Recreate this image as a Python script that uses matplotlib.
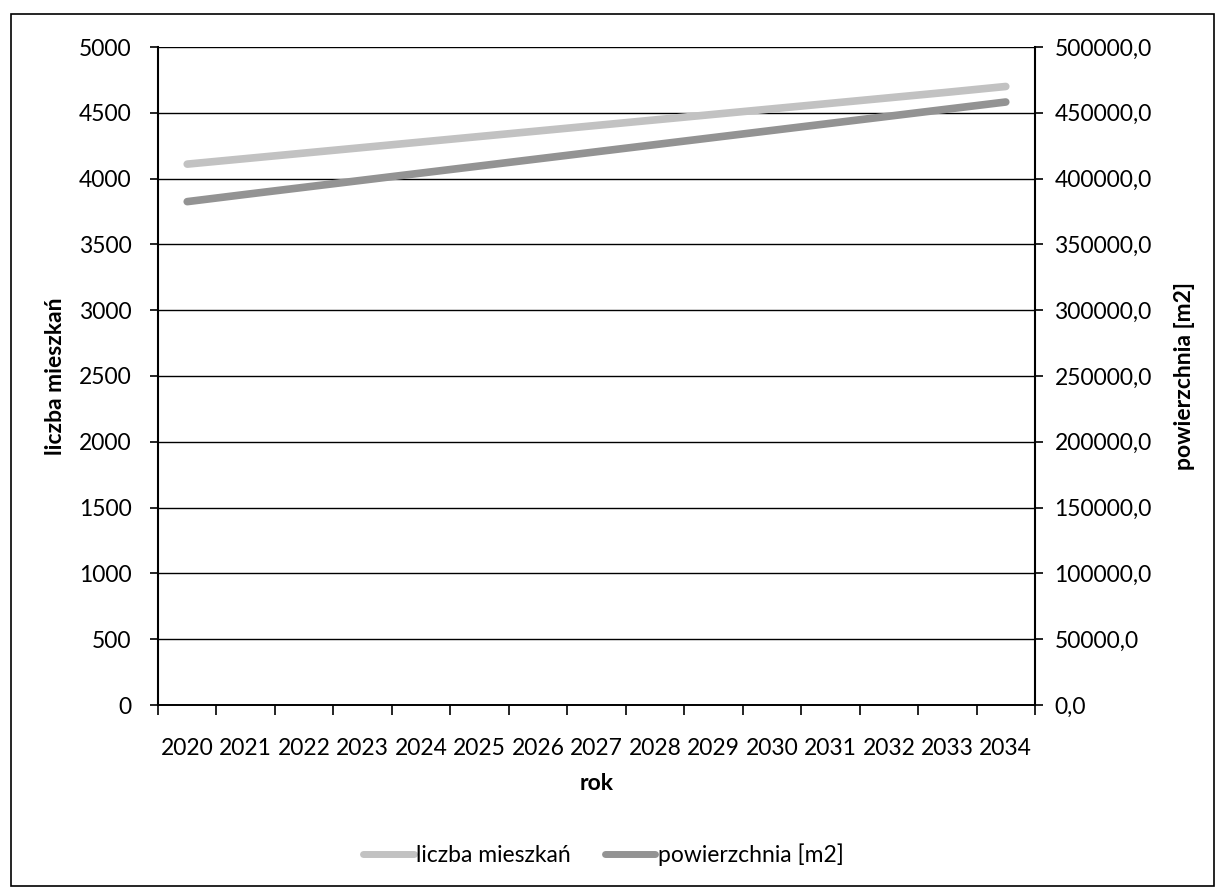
import matplotlib as mpl
mpl.use('Agg')
import matplotlib.pyplot as plt
from matplotlib.patches import Rectangle
from matplotlib.ticker import FuncFormatter, FixedLocator, NullFormatter

plt.rcParams['font.family'] = ['Lato', 'DejaVu Sans']

years = [2020, 2021, 2022, 2023, 2024, 2025, 2026, 2027, 2028, 2029, 2030, 2031, 2032, 2033, 2034]
mieszkania = [4110, 4152, 4194, 4236, 4278, 4320, 4362, 4404, 4446, 4488, 4530, 4572, 4614, 4656, 4700]
powierzchnia = [382500, 388000, 393400, 398800, 404200, 409600, 415000, 420400,
                425800, 431200, 436600, 442000, 447400, 452800, 458200]

left_ticks = [0, 500, 1000, 1500, 2000, 2500, 3000, 3500, 4000, 4500, 5000]
right_ticks = [0, 50000, 100000, 150000, 200000, 250000, 300000, 350000, 400000, 450000, 500000]

light = '#c2c2c2'
dark = '#939393'
fs = 16.5

fig = plt.figure(figsize=(12.19, 8.90), dpi=100)
ax = fig.add_axes([158 / 1219, 1 - 705 / 890, 877 / 1219, 658 / 890])
ax2 = ax.twinx()

x = list(range(len(years)))
l1, = ax.plot(x, mieszkania, color=light, lw=5.5, solid_capstyle='round', zorder=3)
l2, = ax2.plot(x, powierzchnia, color=dark, lw=5.5, solid_capstyle='round', zorder=3)

ax.set_xlim(-0.5, len(years) - 0.5)
ax.set_ylim(0, 5000)
ax2.set_ylim(0, 500000)

# category axis: tick marks between categories, labels centred on them
ax.xaxis.set_major_locator(FixedLocator([i - 0.5 for i in range(len(years) + 1)]))
ax.xaxis.set_major_formatter(NullFormatter())
ax.xaxis.set_minor_locator(FixedLocator(x))
ax.set_xticklabels([str(y) for y in years], minor=True, fontsize=fs)
ax.tick_params(axis='x', which='major', direction='out', length=7, width=1.2, color='black')
ax.tick_params(axis='x', which='minor', length=0, pad=24)

ax.set_yticks(left_ticks)
ax.tick_params(axis='y', direction='out', length=6, width=1.2, labelsize=fs, pad=13)
ax2.set_yticks(right_ticks)
ax2.yaxis.set_major_formatter(FuncFormatter(lambda v, p: f'{v:.1f}'.replace('.', ',')))
ax2.tick_params(axis='y', direction='out', length=6, width=1.2, labelsize=fs, pad=8)

ax.grid(axis='y', color='black', lw=1)
ax.set_axisbelow(True)
for a in (ax, ax2):
    a.spines['top'].set_visible(False)
    a.spines['left'].set_linewidth(1.5)
    a.spines['right'].set_linewidth(1.5)
    a.spines['bottom'].set_linewidth(1.2)
ax2.spines['left'].set_visible(False)
ax.spines['right'].set_visible(False)

ax.set_xlabel('rok', fontsize=fs, fontweight='bold')
ax.set_ylabel('liczba mieszkań', fontsize=fs, fontweight='bold')
ax2.set_ylabel('powierzchnia [m2]', fontsize=fs, fontweight='bold')
ax.xaxis.set_label_coords(0.5, -0.104)
ax.yaxis.set_label_coords(-0.105, 0.5)
ax2.yaxis.set_label_coords(1.1585, 0.5)

fig.legend([l1, l2], ['liczba mieszkań', 'powierzchnia [m2]'], loc='center',
           bbox_to_anchor=(0.495, 1 - 855 / 890), ncol=2, frameon=False,
           fontsize=fs, handlelength=2.2, handleheight=0.7, handletextpad=0.1,
           columnspacing=1.5)
for h in fig.legends[0].legend_handles:
    h.set_linewidth(5)

fig.add_artist(Rectangle((11 / 1219, 1 - 886 / 890), 1203 / 1219, 872 / 890,
                         transform=fig.transFigure, fill=False, edgecolor='black', lw=1.2))

fig.savefig('out.png', dpi=100)
